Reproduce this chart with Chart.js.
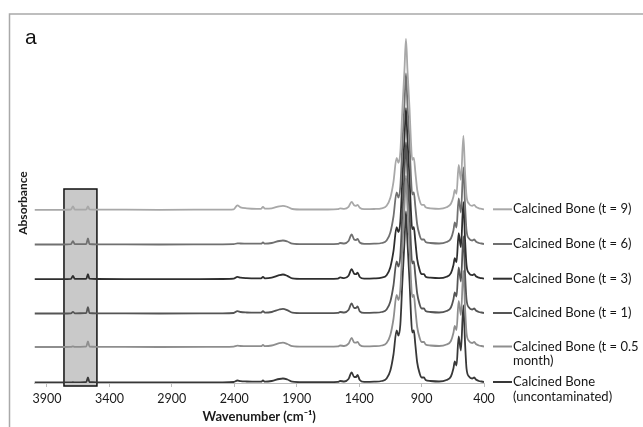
<!DOCTYPE html>
<html><head><meta charset="utf-8">
<script src="https://cdn.jsdelivr.net/npm/chart.js@4.4.1/dist/chart.umd.min.js"></script>
<style>
html,body{margin:0;padding:0;background:#fff;}
#wrap{position:relative;width:643px;height:427px;overflow:hidden;background:#fff;}
canvas{position:absolute;left:0;top:0;}
#panel{position:absolute;left:25px;top:25px;font:21px "Liberation Sans",Arial,sans-serif;color:#111;line-height:24px;}
</style></head><body>
<div id="wrap"><canvas id="c" width="643" height="427"></canvas><div id="panel">a</div></div>
<script>
// Wavenumber grid (cm-1)
const wavenumbers = [4000,3780,3708,3692,3678,3600,3585,3572,3560,3500,3000,2500,2405,2375,2350,2300,2220,2185,2170,2155,2100,2040,2010,1975,1935,1850,1650,1570,1552,1520,1485,1460,1440,1425,1413,1395,1360,1280,1220,1180,1150,1125,1100,1085,1070,1054,1037,1025,1013,996,985,975,962,950,935,915,900,880,868,830,760,700,665,645,634,620,603,585,565,552,540,520,495,478,465,440,420,400];

// Absorbance (offset-stacked as in the figure)
const absT9 = [1.732,1.732,1.735,1.767,1.735,1.734,1.736,1.767,1.736,1.734,1.732,1.734,1.737,1.777,1.757,1.747,1.742,1.742,1.762,1.744,1.747,1.767,1.772,1.762,1.740,1.735,1.735,1.738,1.747,1.742,1.762,1.812,1.777,1.772,1.782,1.752,1.738,1.740,1.747,1.772,1.852,2.012,2.252,2.202,2.312,2.732,3.132,3.442,3.132,2.732,2.412,2.232,2.252,2.112,1.932,1.822,1.782,1.782,1.757,1.747,1.742,1.757,1.792,1.862,1.932,1.892,2.182,2.032,2.472,2.112,1.872,1.792,1.772,1.782,1.762,1.747,1.742,1.737];
const absT6 = [1.385,1.385,1.388,1.418,1.388,1.388,1.390,1.445,1.390,1.387,1.385,1.387,1.388,1.397,1.395,1.393,1.393,1.393,1.405,1.393,1.400,1.420,1.425,1.415,1.393,1.388,1.388,1.391,1.400,1.395,1.420,1.485,1.435,1.430,1.440,1.405,1.391,1.393,1.400,1.425,1.505,1.665,1.905,1.855,1.965,2.385,2.785,3.095,2.785,2.385,2.065,1.885,1.905,1.765,1.585,1.475,1.435,1.435,1.410,1.400,1.395,1.410,1.445,1.525,1.605,1.555,1.845,1.705,2.155,1.785,1.525,1.445,1.425,1.435,1.415,1.400,1.395,1.390];
const absT3 = [1.038,1.038,1.041,1.071,1.041,1.041,1.043,1.088,1.043,1.040,1.038,1.040,1.043,1.061,1.053,1.048,1.046,1.046,1.061,1.046,1.053,1.078,1.085,1.071,1.046,1.041,1.041,1.044,1.056,1.048,1.073,1.138,1.093,1.088,1.104,1.060,1.044,1.046,1.053,1.078,1.158,1.318,1.558,1.508,1.618,2.038,2.438,2.748,2.438,2.038,1.718,1.538,1.558,1.418,1.238,1.128,1.088,1.088,1.063,1.053,1.048,1.063,1.098,1.178,1.248,1.208,1.498,1.358,1.808,1.438,1.178,1.098,1.078,1.088,1.068,1.053,1.048,1.043];
const absT1 = [0.695,0.695,0.697,0.712,0.697,0.698,0.700,0.758,0.700,0.697,0.695,0.697,0.700,0.718,0.710,0.705,0.703,0.703,0.718,0.703,0.710,0.735,0.742,0.728,0.703,0.698,0.698,0.701,0.710,0.705,0.730,0.795,0.750,0.750,0.765,0.717,0.701,0.703,0.710,0.735,0.815,0.975,1.215,1.165,1.275,1.695,2.095,2.405,2.095,1.695,1.375,1.195,1.215,1.075,0.895,0.785,0.745,0.745,0.720,0.710,0.705,0.720,0.755,0.835,0.905,0.865,1.155,1.015,1.465,1.095,0.835,0.755,0.735,0.745,0.725,0.710,0.705,0.700];
const absT05 = [0.360,0.360,0.361,0.366,0.361,0.363,0.365,0.417,0.365,0.362,0.360,0.362,0.364,0.373,0.370,0.368,0.368,0.368,0.380,0.368,0.375,0.398,0.403,0.390,0.368,0.363,0.363,0.366,0.375,0.370,0.393,0.450,0.405,0.403,0.410,0.380,0.366,0.368,0.375,0.400,0.480,0.640,0.880,0.830,0.940,1.360,1.760,2.070,1.760,1.360,1.040,0.860,0.880,0.740,0.560,0.450,0.410,0.410,0.385,0.375,0.370,0.385,0.420,0.500,0.570,0.530,0.820,0.680,1.120,0.760,0.500,0.420,0.400,0.410,0.390,0.375,0.370,0.365];
const absUnc = [0.005,0.005,0.005,0.008,0.005,0.008,0.010,0.055,0.010,0.007,0.005,0.007,0.010,0.025,0.018,0.015,0.013,0.013,0.025,0.013,0.020,0.040,0.045,0.035,0.013,0.008,0.008,0.011,0.020,0.015,0.040,0.105,0.060,0.060,0.080,0.030,0.011,0.013,0.020,0.045,0.125,0.285,0.525,0.475,0.585,1.005,1.405,1.715,1.405,1.005,0.685,0.505,0.525,0.385,0.205,0.095,0.055,0.055,0.030,0.020,0.015,0.030,0.065,0.145,0.215,0.175,0.465,0.325,0.775,0.405,0.145,0.065,0.045,0.055,0.035,0.020,0.015,0.010];

const seriesNames = ["Calcined Bone (t = 9)","Calcined Bone (t = 6)","Calcined Bone (t = 3)","Calcined Bone (t = 1)","Calcined Bone (t = 0.5\nmonth)","Calcined Bone\n(uncontaminated)"];
const xTickLabels = [3900,3400,2900,2400,1900,1400,900,400];
const boxWavenumbers = [3764,3500];
const boxAbsorbance = [-0.03,1.94];

const seriesValues = [absT9,absT6,absT3,absT1,absT05,absUnc];
const seriesColors = ['#a8a8a8','#707070','#2e2e2e','#555555','#8e8e8e','#383838'];

const FONT = 'Lato, "Open Sans", sans-serif';

const framePlugin = {
  id:'frame',
  beforeDraw(chart){
    const ctx = chart.ctx;
    ctx.save();
    ctx.fillStyle='#fff';
    ctx.fillRect(0,0,chart.width,chart.height);
    ctx.strokeStyle='#a9a9a9';
    ctx.lineWidth=1.5;
    ctx.beginPath();
    ctx.moveTo(9.5,chart.height);
    ctx.lineTo(9.5,14);
    ctx.lineTo(chart.width,14);
    ctx.stroke();
    ctx.restore();
  }
};

const boxPlugin = {
  id:'box',
  beforeDatasetsDraw(chart){
    const xs = chart.scales.x, ys = chart.scales.y, ctx = chart.ctx;
    const x1 = xs.getPixelForValue(boxWavenumbers[0]);
    const x2 = xs.getPixelForValue(boxWavenumbers[1]);
    const y1 = ys.getPixelForValue(boxAbsorbance[1]);
    const y2 = ys.getPixelForValue(boxAbsorbance[0]);
    ctx.save();
    ctx.fillStyle='#c9c9c9';
    ctx.fillRect(x1,y1,x2-x1,y2-y1);
    ctx.strokeStyle='#111';
    ctx.lineWidth=1.5;
    ctx.strokeRect(x1,y1,x2-x1,y2-y1);
    ctx.restore();
  }
};

const sideLegend = {
  id:'sideLegend',
  afterDraw(chart){
    const ctx = chart.ctx, ys = chart.scales.y;
    ctx.save();
    ctx.font = '13px ' + FONT;
    ctx.textBaseline = 'middle';
    ctx.textAlign = 'left';
    chart.data.datasets.forEach((ds)=>{
      const last = ds.data[ds.data.length-1].y;
      const y = ys.getPixelForValue(last);
      ctx.strokeStyle = ds.borderColor;
      ctx.lineWidth = 2;
      ctx.beginPath();
      ctx.moveTo(493,y);
      ctx.lineTo(512,y);
      ctx.stroke();
      ctx.fillStyle = '#161616';
      ds.label.split('\n').forEach((t,k)=>ctx.fillText(t,513,y+k*14.5));
    });
    ctx.restore();
  }
};

new Chart(document.getElementById('c'),{
  type:'line',
  data:{
    datasets: seriesValues.map((arr,i)=>({
      label: seriesNames[i],
      data: wavenumbers.map((w,j)=>({x:w,y:arr[j]})),
      borderColor: seriesColors[i],
      borderWidth: 1.8,
      pointRadius: 0,
      cubicInterpolationMode: 'monotone',
      fill: false
    }))
  },
  options:{
    responsive:false,
    animation:false,
    devicePixelRatio:1,
    layout:{padding:{left:0,top:23,right:159,bottom:0}},
    plugins:{legend:{display:false},tooltip:{enabled:false}},
    scales:{
      x:{
        type:'linear',
        reverse:true,
        min:400,max:4000,
        afterBuildTicks(s){ s.ticks = xTickLabels.map(v=>({value:v})); },
        afterFit(s){ s.height = 44; },
        ticks:{font:{family:FONT,size:12.5},color:'#1a1a1a',padding:4,maxRotation:0,autoSkip:false,callback:(v)=>String(v)},
        grid:{display:true,drawOnChartArea:false,drawTicks:true,tickLength:4,color:'#bdbdbd'},
        border:{display:true,color:'#bdbdbd',width:1},
        title:{display:true,text:'Wavenumber (cm⁻¹)',font:{family:FONT,size:13,weight:'bold'},color:'#1a1a1a',padding:{top:0,bottom:2}}
      },
      y:{
        type:'linear',
        min:0,max:3.6,
        afterFit(s){ s.width = 34.5; },
        ticks:{display:false},
        grid:{display:false},
        border:{display:false},
        title:{display:true,text:'Absorbance',font:{family:FONT,size:12,weight:'bold'},color:'#1a1a1a',padding:{top:16,bottom:0}}
      }
    }
  },
  plugins:[framePlugin,boxPlugin,sideLegend]
});
</script>
</body></html>
